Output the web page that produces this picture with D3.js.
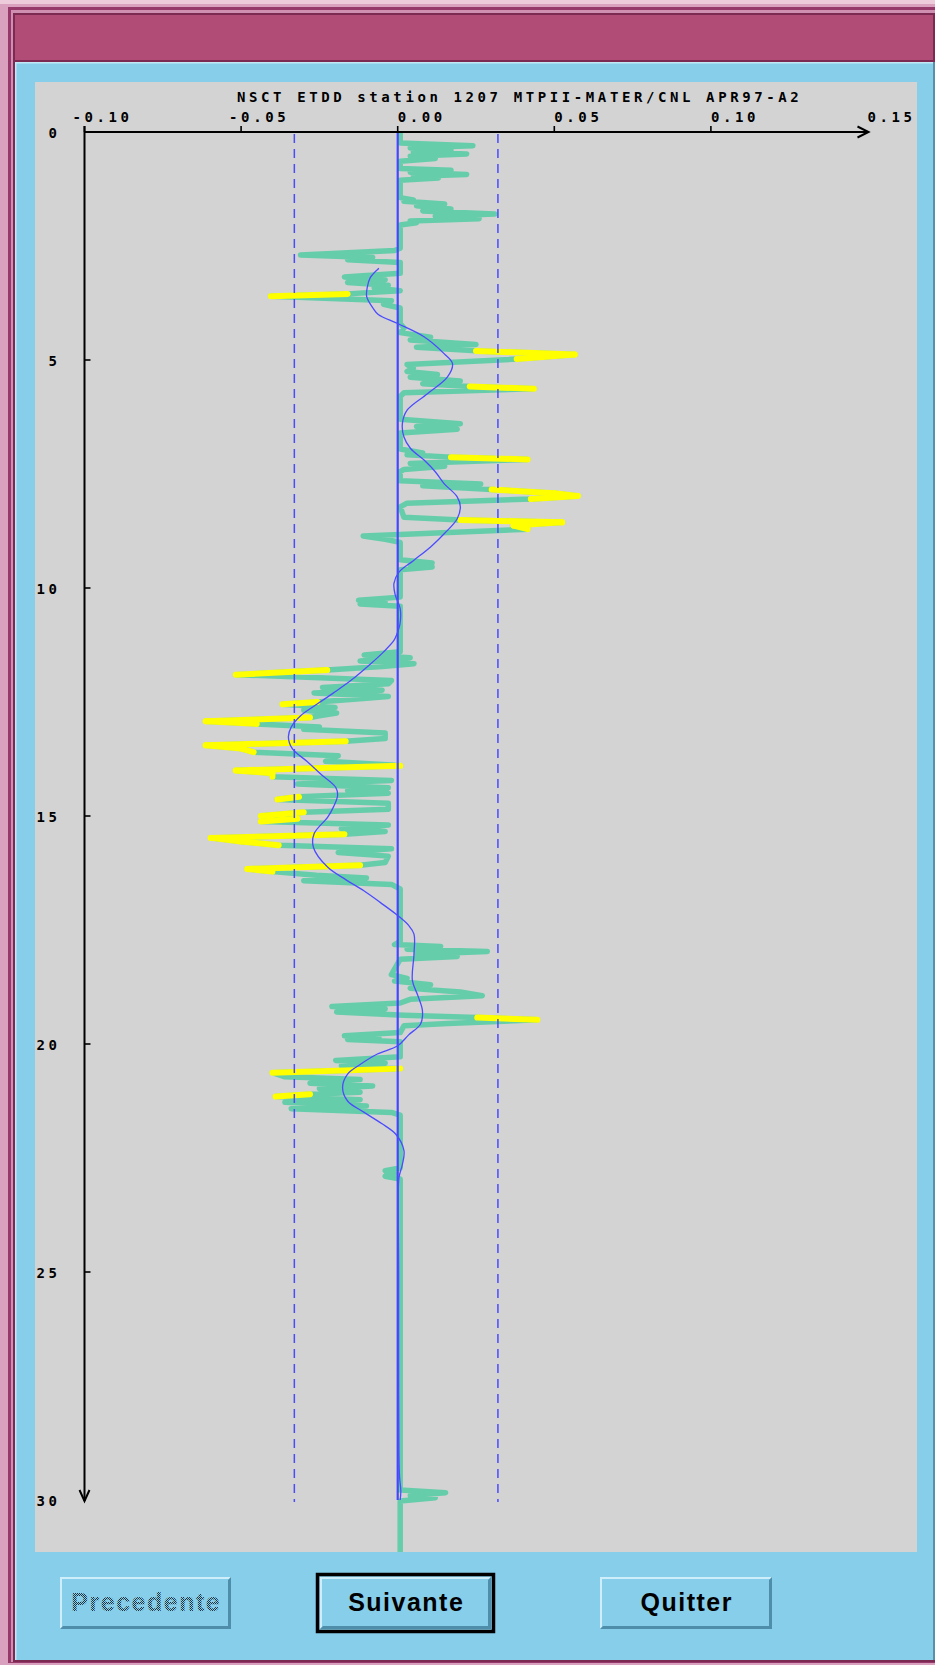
<!DOCTYPE html>
<html>
<head>
<meta charset="utf-8">
<title>NSCT ETDD station 1207</title>
<script src="https://cdn.jsdelivr.net/npm/d3@7"></script>
<style>
  body { margin: 0; background: #d9a1bd; }
  svg { display: block; }
  .mono { font-family: "DejaVu Sans Mono", monospace; font-size: 14px; font-weight: bold; letter-spacing: 3.6px; fill: #000; }
  .btn text { font-family: "Liberation Sans", Arial, sans-serif; font-weight: bold; font-size: 25px; letter-spacing: 1.5px; }
</style>
</head>
<body>
<svg width="935" height="1665"></svg>
<script>
// ecart mesure (profondeur en m, valeur)
var b = 0.0008;
var profil = [
  [0, b], [0.24, b], [0.30, 0.024], [0.35, 0.004], [0.40, 0.017], [0.44, 0.005], [0.48, 0.022],
  [0.53, 0.004], [0.58, 0.012], [0.64, b], [0.80, b], [0.84, 0.017], [0.88, 0.004], [0.93, 0.022],
  [0.97, 0.005], [1.01, 0.013], [1.06, b], [1.44, b], [1.49, 0.005], [1.52, 0.002], [1.58, 0.015],
  [1.62, 0.006], [1.69, 0.017], [1.73, 0.008], [1.80, 0.031], [1.85, 0.012], [1.90, 0.026],
  [1.95, 0.004], [1.99, 0.006], [2.04, b], [2.55, b], [2.60, -0.001], [2.70, -0.031], [2.75, -0.008],
  [2.80, -0.016], [2.86, b], [3.10, b], [3.18, -0.017], [3.24, -0.004], [3.30, -0.016], [3.36, -0.003],
  [3.42, -0.0075], [3.48, b], [3.55, -0.016], [3.60, -0.0405], [3.70, -0.002], [3.78, -0.0045],
  [3.86, b], [4.20, b], [4.30, 0.002], [4.40, b], [4.50, 0.0105], [4.56, 0.004], [4.66, 0.025],
  [4.72, 0.006], [4.80, 0.025], [4.88, 0.0565], [4.98, 0.038], [5.10, 0.003], [5.18, 0.005],
  [5.25, 0.003], [5.32, 0.0127], [5.38, 0.004], [5.46, 0.020], [5.52, 0.008], [5.58, 0.023],
  [5.63, 0.0435], [5.72, 0.002], [5.80, b], [6.30, b], [6.40, 0.020], [6.46, 0.006], [6.52, 0.019],
  [6.60, b], [6.95, b], [7.04, 0.008], [7.08, 0.003], [7.13, 0.017], [7.18, 0.0415], [7.27, 0.004],
  [7.33, 0.015], [7.40, 0.002], [7.45, b], [7.65, b], [7.72, 0.0265], [7.76, 0.008], [7.84, 0.030],
  [7.92, 0.050], [7.98, 0.0575], [8.05, 0.0425], [8.14, 0.003], [8.22, b], [8.45, 0.002],
  [8.51, 0.020], [8.56, 0.0525], [8.63, 0.037], [8.71, 0.0415], [8.86, -0.011], [8.93, -0.004],
  [9.00, b], [9.38, b], [9.45, 0.011], [9.50, 0.004], [9.54, 0.011], [9.60, b], [10.20, b],
  [10.27, -0.0125], [10.31, -0.004], [10.35, -0.012], [10.40, b], [11.40, b], [11.47, -0.0107],
  [11.53, 0.004], [11.60, -0.012], [11.66, 0.0052], [11.72, -0.005], [11.80, -0.0225],
  [11.90, -0.0517], [12.03, -0.002], [12.10, -0.003], [12.18, -0.024], [12.24, -0.005],
  [12.30, -0.0267], [12.38, -0.003], [12.42, -0.010], [12.50, -0.0256], [12.55, -0.0368],
  [12.62, -0.020], [12.68, -0.030], [12.74, -0.0195], [12.80, -0.025], [12.84, -0.028],
  [12.92, -0.0613], [12.98, -0.045], [13.05, -0.025], [13.10, -0.030], [13.18, -0.004],
  [13.30, -0.004], [13.36, -0.0166], [13.45, -0.0613], [13.52, -0.050], [13.60, -0.046],
  [13.68, -0.019], [13.80, -0.023], [13.88, -0.002], [13.90, b], [14.00, -0.0517], [14.06, -0.040],
  [14.14, -0.040], [14.22, -0.002], [14.30, -0.032], [14.38, -0.003], [14.44, -0.016], [14.50, -0.003],
  [14.58, -0.0315], [14.64, -0.0384], [14.72, -0.003], [14.85, -0.003], [14.92, -0.030],
  [15.00, -0.0437], [15.06, -0.032], [15.12, -0.0437], [15.20, -0.003], [15.28, -0.018],
  [15.34, -0.004], [15.40, -0.017], [15.48, -0.0597], [15.56, -0.050], [15.64, -0.038],
  [15.72, -0.002], [15.80, -0.019], [15.88, -0.003], [16.02, -0.004], [16.08, -0.012],
  [16.16, -0.048], [16.22, -0.040], [16.30, -0.026], [16.36, -0.010], [16.42, -0.030],
  [16.50, -0.002], [16.60, b], [17.75, b], [17.82, -0.001], [17.86, 0.0137], [17.92, 0.003],
  [17.97, 0.0286], [18.03, 0.006], [18.08, 0.019], [18.14, b], [18.48, -0.002], [18.56, 0.003],
  [18.62, -0.001], [18.70, 0.0105], [18.78, 0.004], [18.86, 0.020], [18.94, 0.027], [19.02, 0.004],
  [19.10, b], [19.18, -0.021], [19.23, -0.004], [19.30, -0.0195], [19.37, 0.002], [19.42, 0.0254],
  [19.47, 0.0446], [19.55, 0.016], [19.60, 0.002], [19.75, b], [19.82, -0.017], [19.86, -0.006],
  [19.90, -0.016], [19.95, b], [20.28, b], [20.36, -0.0198], [20.42, -0.004], [20.48, -0.018],
  [20.54, b], [20.63, -0.040], [20.72, -0.036], [20.78, -0.012], [20.86, -0.028], [20.92, -0.008],
  [20.98, -0.025], [21.06, -0.012], [21.10, -0.028], [21.15, -0.039], [21.22, -0.012],
  [21.28, -0.036], [21.36, -0.010], [21.42, -0.034], [21.50, -0.002], [21.56, b], [22.72, b],
  [22.78, -0.004], [22.84, -0.001], [22.90, -0.004], [22.96, b], [29.78, b], [29.84, 0.0153],
  [29.90, 0.004], [29.95, 0.012], [30.02, b], [31.5, b]
];
// profondeurs des points dont le segment d'arrivee est en jaune (hors seuil)
var jaune = [3.60, 4.88, 4.98, 5.63, 7.18, 7.92, 7.98, 8.05, 8.56, 8.63, 8.71, 11.90, 12.55,
  12.92, 12.98, 13.45, 13.52, 13.60, 14.00, 14.06, 14.14, 14.64, 15.00, 15.12, 15.48, 15.56,
  15.64, 16.16, 16.22, 19.47, 20.63, 21.15];

// courbe lissee
var lisseZ = [2.99, 3.20, 3.40, 3.61, 3.85, 4.00, 4.20, 4.49, 4.86, 5.08, 5.37, 5.74, 6.10, 6.39,
  6.69, 6.94, 7.20, 7.45, 7.71, 8.00, 8.22, 8.48, 8.80, 9.10, 9.40, 9.65, 9.90, 10.15, 10.45, 10.80,
  11.00, 11.15, 11.40, 11.66, 12.03, 12.30, 12.54, 12.80, 13.05, 13.27, 13.53, 13.80, 14.08, 14.37,
  14.55, 14.80, 15.03, 15.39, 15.69, 16.12, 16.40, 16.64, 16.90, 17.15, 17.40, 17.59, 18.03, 18.61,
  18.95, 19.27, 19.56, 19.80, 20.04, 20.22, 20.45, 20.66, 20.95, 21.25, 21.50, 21.75, 21.98, 22.34,
  22.64, 22.93, 23.50, 25.00, 27.00, 29.00, 29.50, 29.80, 30.00];
var lisseV = [-0.006, -0.0088, -0.0097, -0.0099, -0.0080, -0.0062, 0.0000, 0.0084, 0.0148, 0.0175,
  0.0159, 0.0095, 0.0030, 0.0015, 0.0020, 0.0041, 0.0085, 0.0120, 0.0148, 0.0190, 0.0200, 0.0190,
  0.0150, 0.0105, 0.0050, 0.0004, -0.0012, -0.0008, 0.0008, 0.0007, -0.0002, -0.0012, -0.0045,
  -0.0086, -0.0150, -0.0205, -0.0256, -0.0310, -0.0340, -0.0349, -0.0336, -0.0290, -0.0246, -0.0198,
  -0.0192, -0.0205, -0.0224, -0.0267, -0.0269, -0.0224, -0.0165, -0.0108, -0.0055, -0.0006, 0.0035,
  0.0052, 0.0052, 0.0047, 0.0065, 0.0079, 0.0073, 0.0035, 0.0000, -0.0065, -0.0120, -0.0160,
  -0.0176, -0.0160, -0.0107, -0.0050, -0.0006, 0.0020, 0.0015, 0.0004, 0.0002, 0.0003, 0.0003,
  0.0004, 0.0006, 0.0010, 0.0008];

var xTicks = [-0.10, -0.05, 0.00, 0.05, 0.10, 0.15];
var zTicks = [0, 5, 10, 15, 20, 25, 30];
var seuils = [-0.033, 0.032];
var titre = "NSCT ETDD station 1207 MTPII-MATER/CNL APR97-A2";
var boutons = ["Precedente", "Suivante", "Quitter"];

var svg = d3.select("svg");

// cadre de fenetre
function bloc(x, y, w, h, c) {
  return svg.append("rect").attr("x", x).attr("y", y).attr("width", w).attr("height", h).attr("fill", c);
}
bloc(0, 0, 935, 1665, "#d9a1bd");
bloc(0, 0, 935, 4, "#edcbdb");
bloc(8, 7, 927, 1656, "#96386a");
bloc(11, 10, 924, 1652, "#cf8fb0");
bloc(13, 13, 922, 1649, "#7d2a52");
bloc(15, 15, 918, 45, "#b04c76");
bloc(15, 62, 918, 1598, "#87ceeb");
bloc(15, 62, 918, 1.5, "#c2e8f6");
bloc(15, 62, 1.5, 1598, "#c2e8f6");
bloc(933, 62, 2, 1598, "#5a8fa8");

// zone du graphique
var plot = { x0: 35, y0: 82, x1: 917, y1: 1552 };
bloc(plot.x0, plot.y0, plot.x1 - plot.x0, plot.y1 - plot.y0, "#d3d3d3");

var defs = svg.append("defs");
defs.append("clipPath").attr("id", "clip").append("rect")
  .attr("x", plot.x0).attr("y", plot.y0)
  .attr("width", plot.x1 - plot.x0).attr("height", plot.y1 - plot.y0);
var trame = defs.append("pattern").attr("id", "trame")
  .attr("width", 2).attr("height", 2).attr("patternUnits", "userSpaceOnUse");
trame.append("rect").attr("width", 1).attr("height", 1).attr("fill", "#22323c");
trame.append("rect").attr("x", 1).attr("y", 1).attr("width", 1).attr("height", 1).attr("fill", "#22323c");

var x = d3.scaleLinear().domain([-0.10, 0.15]).range([84.5, 867.5]);
var z = d3.scaleLinear().domain([0, 30]).range([132, 1500]);

var g = svg.append("g").attr("clip-path", "url(#clip)");

// profil vert
var ligne = d3.line().x(function(d) { return x(d[1]); }).y(function(d) { return z(d[0]); });
g.append("path")
  .datum(profil)
  .attr("d", ligne)
  .attr("fill", "none")
  .attr("stroke", "#66cdaa")
  .attr("stroke-width", 5.5)
  .attr("stroke-linejoin", "round");

// segments hors seuil en jaune
var setJaune = new Set(jaune);
var segs = [];
for (var i = 1; i < profil.length; i++) {
  if (setJaune.has(profil[i][0])) segs.push([profil[i - 1], profil[i]]);
}
g.selectAll(".jaune")
  .data(segs)
  .enter().append("line")
  .attr("class", "jaune")
  .attr("x1", function(d) { return x(d[0][1]); })
  .attr("y1", function(d) { return z(d[0][0]); })
  .attr("x2", function(d) { return x(d[1][1]); })
  .attr("y2", function(d) { return z(d[1][0]); })
  .attr("stroke", "#ffff00")
  .attr("stroke-width", 6)
  .attr("stroke-linecap", "round");

// seuils en pointilles
svg.selectAll(".seuil")
  .data(seuils)
  .enter().append("line")
  .attr("class", "seuil")
  .attr("x1", function(d) { return x(d); })
  .attr("x2", function(d) { return x(d); })
  .attr("y1", 134).attr("y2", 1502)
  .attr("stroke", "#4a4aff")
  .attr("stroke-width", 1.5)
  .attr("stroke-dasharray", "9,6");

// ligne zero
svg.append("line")
  .attr("x1", x(0)).attr("x2", x(0))
  .attr("y1", z(0)).attr("y2", z(30))
  .attr("stroke", "#4646ff")
  .attr("stroke-width", 2.2);

// courbe lissee
var lisse = d3.line()
  .x(function(d, i) { return x(lisseV[i]); })
  .y(function(d) { return z(d); })
  .curve(d3.curveCatmullRom);
svg.append("path")
  .attr("d", lisse(lisseZ))
  .attr("fill", "none")
  .attr("stroke", "#4c4cff")
  .attr("stroke-width", 1.3);

// axes
var ax = svg.append("g").attr("stroke", "#000").attr("stroke-width", 2).attr("fill", "none");
ax.append("line").attr("x1", x(-0.10)).attr("x2", x(0.15)).attr("y1", z(0)).attr("y2", z(0));
ax.append("line").attr("x1", x(-0.10)).attr("x2", x(-0.10)).attr("y1", z(0) - 6).attr("y2", z(30) + 1);
ax.append("path").attr("d", "M" + (x(0.15) - 10) + "," + (z(0) - 5.5) + "L" + (x(0.15) + 1) + "," + z(0) + "L" + (x(0.15) - 10) + "," + (z(0) + 5.5));
ax.append("path").attr("d", "M" + (x(-0.10) - 5) + "," + (z(30) - 10) + "L" + x(-0.10) + "," + (z(30) + 1) + "L" + (x(-0.10) + 5) + "," + (z(30) - 10));

ax.selectAll(".xt")
  .data(xTicks.slice(0, -1))
  .enter().append("line")
  .attr("x1", function(d) { return x(d); })
  .attr("x2", function(d) { return x(d); })
  .attr("y1", z(0) - 6).attr("y2", z(0))
  .attr("stroke-width", 1.6);
ax.selectAll(".zt")
  .data(zTicks.slice(1, -1))
  .enter().append("line")
  .attr("x1", x(-0.10)).attr("x2", x(-0.10) + 6)
  .attr("y1", function(d) { return z(d); })
  .attr("y2", function(d) { return z(d); })
  .attr("stroke-width", 1.6);

var fmt = d3.format(".2f");
svg.selectAll(".xl")
  .data(xTicks)
  .enter().append("text")
  .attr("class", "mono")
  .attr("x", function(d) { return x(d) + (d < 0 ? -12 : 0); })
  .attr("y", 121.7)
  .text(function(d) { return fmt(d).replace("\u2212", "-"); });

svg.selectAll(".zl")
  .data(zTicks)
  .enter().append("text")
  .attr("class", "mono")
  .attr("text-anchor", "end")
  .attr("x", 60.6)
  .attr("y", function(d) { return z(d) + 5.5; })
  .text(function(d) { return d; });

svg.append("text")
  .attr("class", "mono")
  .attr("x", 237)
  .attr("y", 101.5)
  .text(titre);

// boutons
var posB = [
  { x: 60, y: 1577, w: 171, h: 52, actif: false, focus: false },
  { x: 320, y: 1577, w: 171, h: 52, actif: true, focus: true },
  { x: 600, y: 1577, w: 172, h: 52, actif: true, focus: false }
];
var bt = svg.selectAll(".btn")
  .data(boutons)
  .enter().append("g")
  .attr("class", "btn");

bt.each(function(label, i) {
  var p = posB[i], s = d3.select(this);
  if (p.focus) {
    s.append("rect").attr("x", p.x - 2.5).attr("y", p.y - 2.5)
      .attr("width", p.w + 5).attr("height", p.h + 5)
      .attr("fill", "none").attr("stroke", "#000").attr("stroke-width", 3.5);
  }
  s.append("rect").attr("x", p.x).attr("y", p.y).attr("width", p.w).attr("height", p.h).attr("fill", "#87ceeb");
  s.append("path")
    .attr("d", "M" + p.x + "," + (p.y + p.h) + "V" + p.y + "H" + (p.x + p.w) + "L" + (p.x + p.w - 2) + "," + (p.y + 2) + "H" + (p.x + 2) + "V" + (p.y + p.h - 2) + "Z")
    .attr("fill", "#cdeefa");
  s.append("path")
    .attr("d", "M" + p.x + "," + (p.y + p.h) + "H" + (p.x + p.w) + "V" + p.y + "L" + (p.x + p.w - 3) + "," + (p.y + 3) + "V" + (p.y + p.h - 3) + "H" + (p.x + 3) + "Z")
    .attr("fill", "#4f8eaa");
  s.append("text")
    .attr("x", p.x + p.w / 2 + 0.75)
    .attr("y", p.y + 34)
    .attr("text-anchor", "middle")
    .attr("fill", p.actif ? "#000" : "url(#trame)")
    .text(label);
});
</script>
</body>
</html>
